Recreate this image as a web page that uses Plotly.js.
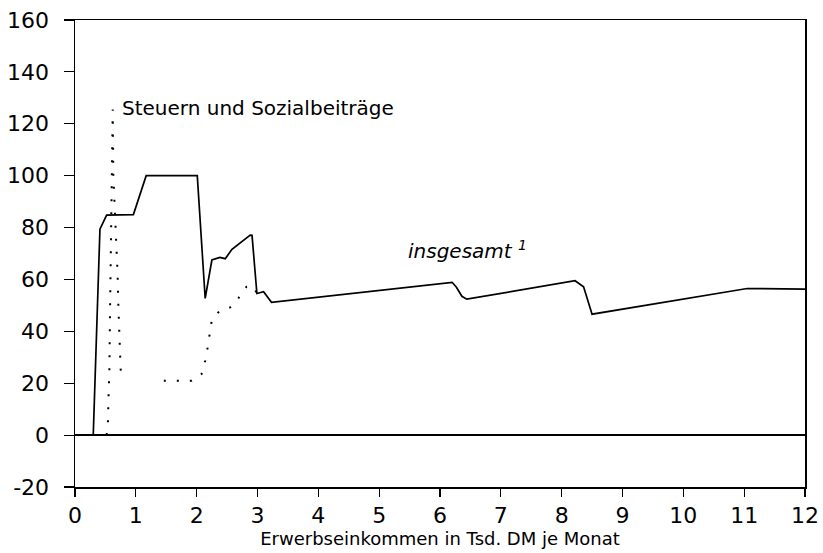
<!DOCTYPE html>
<html>
<head>
<meta charset="utf-8">
<script src="https://cdn.plot.ly/plotly-3.0.1.min.js"></script>
<style>html,body{margin:0;padding:0;background:#fff;}#chart{width:823px;height:553px;}</style>
</head>
<body>
<div id="chart"></div>
<script>
// Insgesamt (solid line)
var totalX = [0.30, 0.41, 0.52, 0.96, 1.17, 2.01, 2.14, 2.25, 2.38, 2.47, 2.58, 2.88, 2.91, 2.99, 3.10, 3.23, 6.20, 6.27, 6.36, 6.44, 8.22, 8.36, 8.50, 11.05, 12.0];
var totalY = [0, 79.4, 84.8, 85, 100, 100, 52.7, 67.5, 68.5, 68, 71.6, 77.1, 77, 54.6, 55.3, 51.2, 58.9, 57.0, 53.5, 52.4, 59.5, 57.2, 46.6, 56.5, 56.3];

// Steuern und Sozialbeiträge (dotted line)
var taxX = [0.52, 0.54, 0.55, 0.565, 0.575, 0.587, 0.60, 0.61, 0.62, 0.63, 0.66, 0.685, 0.70, 0.71, 0.73, 0.75, 0.78, 1.10, 1.46, 1.68, 1.92, 2.08, 2.14, 2.18, 2.21, 2.25, 2.37, 2.55, 2.69, 2.82, 2.93, 2.99];
var taxY = [0, 3.9, 14, 25, 46, 72.6, 93.8, 120.3, 125.5, 100, 83.6, 72.8, 62.4, 51.8, 36, 25.4, 21.2, null, 21, 21, 21, 23.5, 28.6, 33.7, 39.2, 44.6, 47.7, 49.2, 52.9, 57.2, 57.4, 54.6];

var xTicks = [0, 1, 2, 3, 4, 5, 6, 7, 8, 9, 10, 11, 12];
var yTicks = [-20, 0, 20, 40, 60, 80, 100, 120, 140, 160];

var labelTax = "Steuern und Sozialbeiträge";
var labelTotal = "insgesamt <sup>1</sup>";
var xTitle = "Erwerbseinkommen in Tsd. DM je Monat";

var traces = [
  {x: totalX, y: totalY, mode: 'lines', type: 'scatter',
   line: {color: '#000', width: 1.7}, hoverinfo: 'skip', showlegend: false},
  {x: taxX, y: taxY, mode: 'lines', type: 'scatter', connectgaps: false,
   line: {color: '#000', width: 2, dash: '2px,11px'}, hoverinfo: 'skip', showlegend: false}
];

var fontFam = 'DejaVu Sans, Arial, sans-serif';

var layout = {
  width: 823, height: 553,
  margin: {l: 75, r: 18, t: 20, b: 66},
  paper_bgcolor: '#fff', plot_bgcolor: '#fff',
  showlegend: false,
  xaxis: {
    range: [0, 12], tickvals: xTicks, ticktext: xTicks.map(String),
    showgrid: false, zeroline: false,
    showline: true, mirror: true, linecolor: '#000', linewidth: 1.5,
    ticks: 'outside', ticklen: 8, tickwidth: 1.2, tickcolor: '#000',
    tickfont: {family: fontFam, size: 22, color: '#000'},
    title: {text: xTitle, font: {family: fontFam, size: 18, color: '#000'}, standoff: 3}
  },
  yaxis: {
    range: [-20, 160], tickvals: yTicks, ticktext: yTicks.map(String),
    showgrid: false, zeroline: true, zerolinecolor: '#000', zerolinewidth: 1.5,
    showline: true, mirror: true, linecolor: '#000', linewidth: 1.5,
    ticks: 'outside', ticklen: 10, tickwidth: 1.2, tickcolor: '#000',
    ticklabelstandoff: 10,
    tickfont: {family: fontFam, size: 22, color: '#000'}
  },
  annotations: [
    {x: 0.74, y: 126, xref: 'x', yref: 'y', text: labelTax, showarrow: false,
     xanchor: 'left', yanchor: 'middle', font: {family: fontFam, size: 20, color: '#000'}},
    {x: 5.44, y: 71.5, xref: 'x', yref: 'y', text: labelTotal, showarrow: false,
     xanchor: 'left', yanchor: 'middle', font: {family: fontFam, size: 20, color: '#000', style: 'italic'}}
  ]
};

Plotly.newPlot('chart', traces, layout, {displayModeBar: false, staticPlot: true});
</script>
</body>
</html>
